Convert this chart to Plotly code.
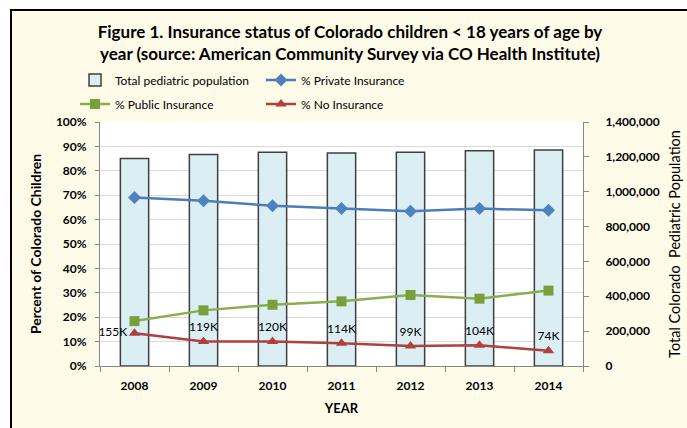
import plotly.graph_objects as go

years = ["2008", "2009", "2010", "2011", "2012", "2013", "2014"]
total_pop = [1191000, 1214000, 1226000, 1222000, 1226000, 1235000, 1239000]
pct_private = [0.691, 0.677, 0.657, 0.645, 0.634, 0.645, 0.638]
pct_public = [0.184, 0.228, 0.251, 0.265, 0.291, 0.276, 0.309]
pct_none = [0.134, 0.100, 0.100, 0.093, 0.082, 0.085, 0.063]
none_labels = ["155K", "119K", "120K", "114K", "99K", "104K", "74K"]
label_pos = ["middle left", "top center", "top center", "top center", "top center", "top center", "top center"]

FONT = "Lato"
W, H = 687, 428
L, R, T, B = 100, 104, 122, 62
pw, ph = W - L - R, H - T - B

def px_x(p):
    return (p - L) / pw

def px_y(p):
    return (H - B - p) / ph

fig = go.Figure()
fig.add_trace(go.Bar(
    x=years, y=total_pop, name="Total pediatric population",
    marker=dict(color="#DBEEF4", line=dict(color="#3F3F3F", width=1.5)),
    width=0.41, yaxis="y", legend="legend"))
fig.add_trace(go.Scatter(
    x=years, y=pct_private, name="% Private Insurance", mode="lines+markers",
    line=dict(color="#4A7EBB", width=2.5),
    marker=dict(symbol="diamond", size=10, color="#4F81BD"),
    yaxis="y2", legend="legend2"))
fig.add_trace(go.Scatter(
    x=years, y=pct_public, name="% Public Insurance", mode="lines+markers",
    line=dict(color="#8AAE4F", width=2.5),
    marker=dict(symbol="square", size=10, color="#77A03A"),
    yaxis="y2", legend="legend3"))
fig.add_trace(go.Scatter(
    x=years, y=pct_none, name="% No Insurance", mode="lines+markers+text",
    line=dict(color="#B0403E", width=2.5),
    marker=dict(symbol="triangle-up", size=10, color="#B0403E"),
    text=none_labels, textposition=label_pos,
    textfont=dict(family=FONT, size=12, color="#000000"),
    yaxis="y2", legend="legend4"))

legfont = dict(family=FONT, size=12, color="#000000")
def leg(xp, yp):
    return dict(x=px_x(xp), y=px_y(yp), xanchor="left", yanchor="middle",
                orientation="h", font=legfont, bgcolor="rgba(0,0,0,0)",
                borderwidth=0)

axis_tick_font = dict(family=FONT, size=12, color="#000000", weight="bold")

fig.update_layout(
    width=W, height=H,
    margin=dict(l=L, r=R, t=T, b=B, autoexpand=False),
    paper_bgcolor="#FEFBE9", plot_bgcolor="#FFFFFF",
    title=dict(text="Figure 1. Insurance status of Colorado children < 18 years of age by<br>year (source: American Community Survey via CO Health Institute)",
               x=350 / W, xanchor="center", y=1 - 38 / H, yanchor="middle",
               font=dict(family=FONT, size=17, color="#000000", weight="bold")),
    legend=leg(75, 80),
    legend2=leg(261, 80),
    legend3=leg(75, 104),
    legend4=leg(261, 104),
    xaxis=dict(type="category", tickfont=axis_tick_font, showline=True,
               linecolor="#878787", linewidth=1, ticks="outside", tickson="boundaries",
               ticklen=5, tickcolor="#878787", ticklabelstandoff=9,
               title=dict(text="YEAR", font=dict(family=FONT, size=13, color="#000000", weight="bold"),
                          standoff=11), showgrid=False),
    yaxis=dict(side="right", range=[0, 1400000], dtick=200000, tickformat=",",
               tickfont=axis_tick_font, showgrid=False, zeroline=False,
               showline=True, linecolor="#878787", ticks="outside", ticklen=5,
               tickcolor="#878787", ticklabelstandoff=14,
               title=dict(text="Total Colorado  Pediatric Population",
                          font=dict(family=FONT, size=14.5, color="#000000"), standoff=11)),
    yaxis2=dict(side="left", overlaying="y", range=[0, 1], dtick=0.1, tickformat=".0%",
                tickfont=axis_tick_font, showgrid=True, gridcolor="#D9D9D9", gridwidth=1,
                zeroline=False, showline=True, linecolor="#878787", ticks="outside",
                ticklen=4, tickcolor="#878787", ticklabelstandoff=6,
                title=dict(text="Percent of Colorado Children",
                           font=dict(family=FONT, size=14, color="#000000", weight="bold"),
                           standoff=10)),
    showlegend=True,
    shapes=[
        dict(type="rect", xref="paper", yref="paper", x0=px_x(-20), x1=px_x(11),
             y0=px_y(460), y1=px_y(-20), fillcolor="#FFFFFF", line=dict(width=0), layer="above"),
        dict(type="rect", xref="paper", yref="paper", x0=px_x(-20), x1=px_x(710),
             y0=px_y(10), y1=px_y(-20), fillcolor="#FFFFFF", line=dict(width=0), layer="above"),
        dict(type="rect", xref="paper", yref="paper", x0=px_x(11), x1=px_x(710),
             y0=px_y(460), y1=px_y(10), fillcolor="rgba(0,0,0,0)",
             line=dict(color="#000000", width=2), layer="above"),
    ],
)

fig.write_html("out.html", config={"displayModeBar": False},
               post_script="document.body.style.margin='0';document.body.style.overflow='hidden';")
